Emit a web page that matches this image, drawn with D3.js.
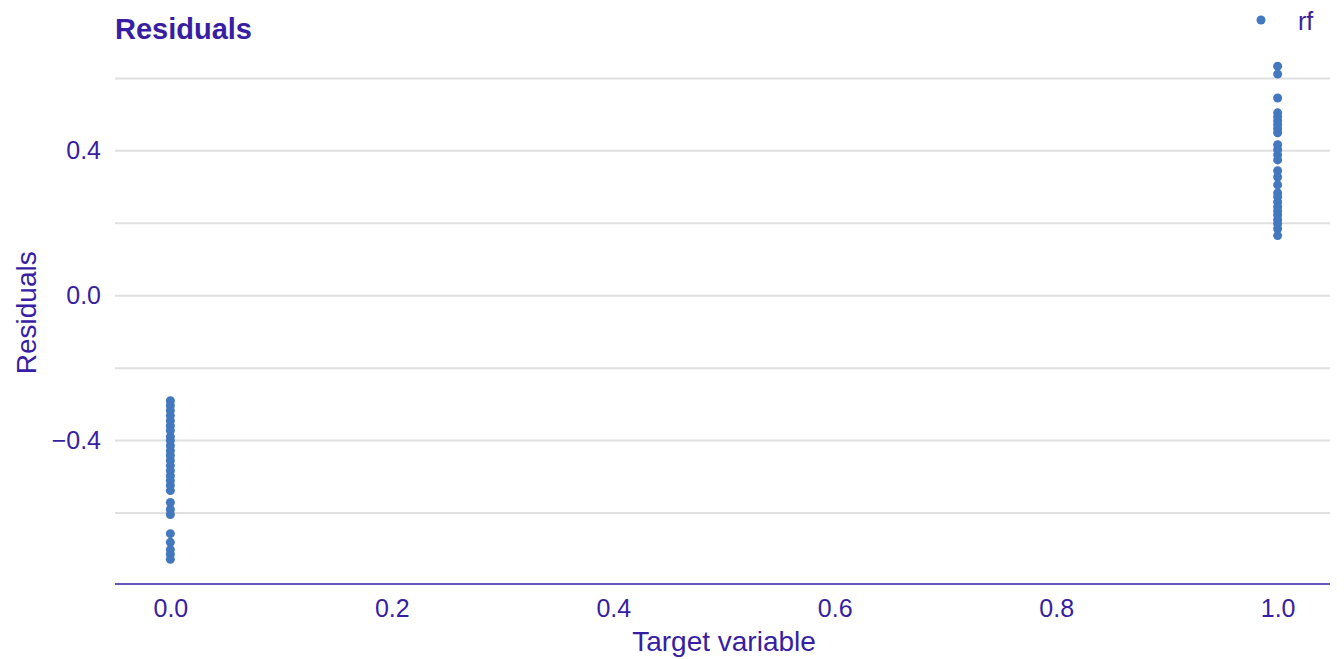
<!DOCTYPE html>
<html>
<head>
<meta charset="utf-8">
<script src="https://cdn.jsdelivr.net/npm/d3@7"></script>
<style>
  html, body { margin: 0; padding: 0; background: #fff; }
  svg { display: block; font-family: "Liberation Sans", Arial, sans-serif; }
</style>
</head>
<body>
<svg id="chart" width="1344" height="659"></svg>
<script>
const seriesName = "rf";
const targets0 = 0;
const targets1 = 1;
const residualsAt0 = [-0.290, -0.303, -0.317, -0.331, -0.345, -0.359, -0.372, -0.389, -0.400, -0.414,
  -0.428, -0.441, -0.455, -0.469, -0.483, -0.497, -0.510, -0.524, -0.538, -0.571, -0.590, -0.604,
  -0.657, -0.681, -0.701, -0.714, -0.728];
const residualsAt1 = [0.634, 0.612, 0.546, 0.505, 0.494, 0.483, 0.472, 0.461, 0.450, 0.417, 0.403,
  0.389, 0.375, 0.345, 0.328, 0.306, 0.284, 0.273, 0.259, 0.246, 0.234, 0.223, 0.210, 0.199, 0.185, 0.166];
const xTicks = [0.0, 0.2, 0.4, 0.6, 0.8, 1.0];
const yTicks = [-0.4, 0.0, 0.4];
const yGrid = [-0.6, -0.4, -0.2, 0.0, 0.2, 0.4, 0.6];

const points = residualsAt0.map(r => ({x: targets0, y: r}))
  .concat(residualsAt1.map(r => ({x: targets1, y: r})));

const textColor = "#371ea3";
const pointColor = "#4378bf";

const svg = d3.select("#chart");
const pLeft = 115, pRight = 1333, pTop = 41.5, pBottom = 584;

const x = d3.scaleLinear().domain([-0.05, 1.05]).range([pLeft, pRight]);
const y = d3.scaleLinear().domain([-0.796, 0.702]).range([pBottom, pTop]);

// grid
svg.append("g").selectAll("line").data(yGrid).join("line")
  .attr("x1", pLeft).attr("x2", pRight - 3)
  .attr("y1", d => y(d)).attr("y2", d => y(d))
  .attr("stroke", "#e0e0e0").attr("stroke-width", 2);

// x axis
const xAxis = svg.append("g").attr("transform", `translate(0,${pBottom})`)
  .call(d3.axisBottom(x).tickValues(xTicks).tickFormat(d3.format(".1f")).tickSize(0).tickPadding(15));
xAxis.select(".domain").attr("stroke", textColor).attr("stroke-width", 1.5)
  .attr("d", `M${pLeft},0H${pRight - 3}`);
xAxis.selectAll("text").attr("fill", textColor).attr("font-size", 25)
  .attr("font-family", "Liberation Sans, Arial, sans-serif");

// y axis
const yAxis = svg.append("g").attr("transform", `translate(${pLeft},0)`)
  .call(d3.axisLeft(y).tickValues(yTicks).tickFormat(d => d === 0 ? "0.0" : d3.format(".1f")(d).replace("-", "\u2013")).tickSize(0).tickPadding(14));
yAxis.select(".domain").remove();
yAxis.selectAll("text").attr("fill", textColor).attr("font-size", 25)
  .attr("font-family", "Liberation Sans, Arial, sans-serif");

// points
svg.append("g").selectAll("circle").data(points).join("circle")
  .attr("cx", d => x(d.x)).attr("cy", d => y(d.y)).attr("r", 4.5)
  .attr("fill", pointColor);

// titles
svg.append("text").attr("x", pLeft).attr("y", 39).text("Residuals")
  .attr("fill", textColor).attr("font-size", 29).attr("font-weight", "bold");

svg.append("text").attr("x", (x(0) + x(1)) / 2).attr("y", 651).attr("text-anchor", "middle")
  .text("Target variable").attr("fill", textColor).attr("font-size", 28);

svg.append("text").attr("transform", `translate(36,${(pTop + pBottom) / 2}) rotate(-90)`)
  .attr("text-anchor", "middle").text("Residuals").attr("fill", textColor).attr("font-size", 28);

// legend
svg.append("circle").attr("cx", 1261).attr("cy", 20).attr("r", 4.5).attr("fill", pointColor);
svg.append("text").attr("x", 1298).attr("y", 30).text(seriesName)
  .attr("fill", textColor).attr("font-size", 25);
</script>
</body>
</html>
